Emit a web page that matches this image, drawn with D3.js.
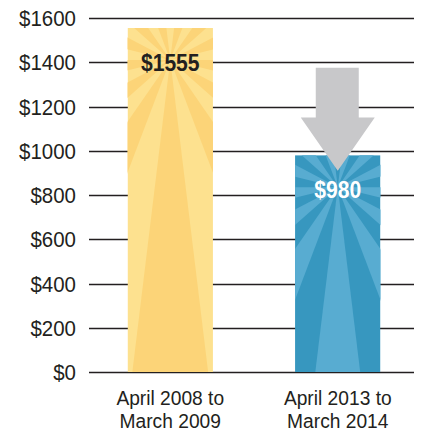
<!DOCTYPE html>
<meta charset="utf-8">
<script src="https://d3js.org/d3.v7.min.js"></script>
<style>
  body { margin: 0; background: #fff; }
  text { font-family: "Liberation Sans", Arial, sans-serif; }
</style>
<div id="my_dataviz"></div>
<script>

// data
var categories = ["April 2008 to|March 2009", "April 2013 to|March 2014"];
var values = [1555, 980];
var valueLabels = ["$1555", "$980"];
var yTicks = [0, 200, 400, 600, 800, 1000, 1200, 1400, 1600];
// the grey down arrow above the second bar (in dollars)
var arrowTop = 1375, arrowNeck = 1150, arrowTip = 1000;

var W = 422, H = 437;
var margin = {top: 18, right: 8, bottom: 65, left: 89},
    width = W - margin.left - margin.right,
    height = H - margin.top - margin.bottom;

var svg = d3.select("#my_dataviz")
  .append("svg")
    .attr("width", W)
    .attr("height", H);

var g = svg.append("g")
    .attr("transform", "translate(" + margin.left + "," + margin.top + ")");

var y = d3.scaleLinear()
  .domain([0, 1600])
  .range([height, 0]);

var x = d3.scaleBand()
  .domain(categories)
  .range([0, 330])
  .paddingInner(0.49)
  .paddingOuter(0.23);

// grid lines
g.selectAll(".grid")
  .data(yTicks)
  .enter()
  .append("line")
    .attr("x1", 0)
    .attr("x2", 325)
    .attr("y1", function(d){ return Math.round(y(d)) + 0.5 })
    .attr("y2", function(d){ return Math.round(y(d)) + 0.5 })
    .attr("stroke", "#231f20")
    .attr("stroke-width", 1.4);

// tick labels (narrowed a little, the original face is condensed)
g.selectAll(".tick")
  .data(yTicks)
  .enter()
  .append("text")
    .attr("transform", function(d){ return "translate(-13," + (y(d) + 8) + ") scale(0.93,1)" })
    .attr("text-anchor", "end")
    .style("font-size", "22px")
    .style("fill", "#231f20")
    .text(function(d){ return "$" + d });

// sunburst bars
var fills = [["#fde18f", "#fcd478"], ["#3797bf", "#58acd1"]];
var rays = 26;
var defs = svg.append("defs");

categories.forEach(function(c, i) {
  var x0 = x(c), bw = x.bandwidth(), top = y(values[i]);
  defs.append("clipPath").attr("id", "clip" + i)
    .append("rect")
      .attr("x", x0).attr("y", top)
      .attr("width", bw).attr("height", height - top);

  var bar = g.append("g").attr("clip-path", "url(#clip" + i + ")");
  bar.append("rect")
    .attr("x", x0).attr("y", top)
    .attr("width", bw).attr("height", height - top)
    .attr("fill", fills[i][0]);

  var cx = x0 + bw / 2, cy = top + 32, R = 500;
  for (var k = 0; k < rays; k += 2) {
    var a0 = k * 2 * Math.PI / rays, a1 = (k + 1) * 2 * Math.PI / rays;
    bar.append("path")
      .attr("d", "M" + cx + "," + cy +
                 "L" + (cx + R * Math.cos(a0)) + "," + (cy + R * Math.sin(a0)) +
                 "L" + (cx + R * Math.cos(a1)) + "," + (cy + R * Math.sin(a1)) + "Z")
      .attr("fill", fills[i][1]);
  }

  g.append("text")
    .attr("transform", "translate(" + cx + "," + (top + 43) + ") scale(0.88,1)")
    .attr("text-anchor", "middle")
    .style("font-size", "24px")
    .style("font-weight", "bold")
    .style("fill", i == 0 ? "#231f20" : "#fff")
    .text(valueLabels[i]);

  var t = g.append("text")
    .attr("transform", "translate(" + cx + "," + (height + 33) + ") scale(0.96,1)")
    .attr("text-anchor", "middle")
    .style("font-size", "20px")
    .style("fill", "#231f20");
  c.split("|").forEach(function(l, j) {
    t.append("tspan")
      .attr("x", 0)
      .attr("dy", j == 0 ? 0 : 23)
      .text(l);
  });
});

// arrow
var ax = x(categories[1]) + x.bandwidth() / 2;
g.append("path")
  .attr("d", "M" + (ax - 22) + "," + y(arrowTop) +
             "L" + (ax + 21) + "," + y(arrowTop) +
             "L" + (ax + 21) + "," + y(arrowNeck) +
             "L" + (ax + 37) + "," + y(arrowNeck) +
             "L" + ax + "," + (y(arrowTip) + 20) +
             "L" + (ax - 37) + "," + y(arrowNeck) +
             "L" + (ax - 22) + "," + y(arrowNeck) + "Z")
  .attr("fill", "#c8c8ca");

</script>
